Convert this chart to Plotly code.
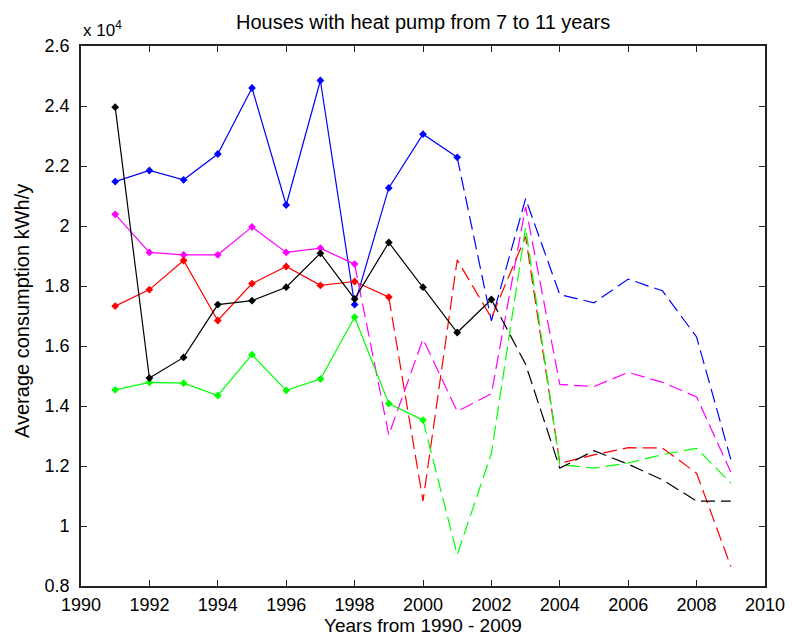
import plotly.graph_objects as go

years = list(range(1991, 2010))

# Average consumption in units of 1e4 kWh/y
blue = [2.148, 2.185, 2.154, 2.240, 2.460, 2.070, 2.485, 1.738, 2.127, 2.306, 2.229,
        1.684, 2.091, 1.771, 1.744, 1.823, 1.784, 1.630, 1.222]
magenta = [2.039, 1.912, 1.904, 1.904, 1.997, 1.912, 1.926, 1.873, 1.303, 1.623, 1.382,
           1.441, 2.064, 1.472, 1.465, 1.512, 1.479, 1.430, 1.180]
red = [1.733, 1.788, 1.885, 1.685, 1.808, 1.865, 1.802, 1.815, 1.763, 1.083, 1.887,
       1.694, 1.965, 1.209, 1.237, 1.261, 1.260, 1.176, 0.865]
green = [1.454, 1.479, 1.476, 1.435, 1.571, 1.452, 1.490, 1.696, 1.408, 1.353, 0.904,
         1.242, 1.995, 1.205, 1.193, 1.210, 1.238, 1.259, 1.143]
black = [2.396, 1.493, 1.562, 1.738, 1.751, 1.796, 1.909, 1.757, 1.945, 1.796, 1.645,
         1.755, 1.539, 1.193, 1.251, 1.206, 1.154, 1.083, 1.083]

# last year drawn with solid line + markers for each series
series = [
    ("blue", blue, "#0000FF", 2001),
    ("magenta", magenta, "#FF00FF", 1998),
    ("red", red, "#FF0000", 1999),
    ("green", green, "#00FF00", 2000),
    ("black", black, "#000000", 2002),
]

x_ticks = list(range(1990, 2011, 2))
y_ticks = [0.8, 1.0, 1.2, 1.4, 1.6, 1.8, 2.0, 2.2, 2.4, 2.6]
y_tick_text = ["0.8", "1", "1.2", "1.4", "1.6", "1.8", "2", "2.2", "2.4", "2.6"]

FONT = "Liberation Sans, Arial"
# page has an 8px body margin, so the figure is sized to fit inside the window
W, H = 777, 627
L, R, T, B = 73, 20, 38, 49

fig = go.Figure()
for name, vals, col, last in series:
    k = years.index(last) + 1
    fig.add_trace(go.Scatter(x=years[:k], y=vals[:k], mode="lines+markers",
                             line=dict(color=col, width=1.2),
                             marker=dict(symbol="diamond", size=6, color=col),
                             showlegend=False, name=name))
    fig.add_trace(go.Scatter(x=years[k - 1:], y=vals[k - 1:], mode="lines",
                             line=dict(color=col, width=1.2, dash="14px,6px"),
                             showlegend=False, name=name))

axis_common = dict(showgrid=False, zeroline=False, showline=True, linecolor="#222222",
                   linewidth=1.6, mirror="ticks", ticks="inside", ticklen=6,
                   tickcolor="#222222", tickwidth=1.3, automargin=False,
                   ticklabeloverflow="allow",
                   tickfont=dict(family=FONT, size=18, color="black"))

pw = W - L - R
ph = H - T - B

fig.update_layout(
    width=W, height=H,
    margin=dict(l=L, r=R, t=T, b=B),
    paper_bgcolor="white", plot_bgcolor="white",
    xaxis=dict(range=[1990, 2010], tickvals=x_ticks, ticklabelstandoff=2, **axis_common),
    yaxis=dict(range=[0.8, 2.6], tickvals=y_ticks, ticktext=y_tick_text,
               ticklabelstandoff=6, **axis_common),
    annotations=[
        dict(text="Houses with heat pump from 7 to 11 years", xref="paper", yref="paper",
             x=(415 - L) / pw, y=(H - B - 14) / ph, xanchor="center", yanchor="middle",
             showarrow=False, font=dict(family=FONT, size=20, color="black")),
        dict(text="Years from 1990 - 2009", xref="paper", yref="paper",
             x=(415 - L) / pw, y=(H - B - 617) / ph, xanchor="center", yanchor="middle",
             showarrow=False, font=dict(family=FONT, size=19, color="black")),
        dict(text="Average consumption kWh/y", xref="paper", yref="paper", textangle=-90,
             x=(14 - L) / pw, y=(H - B - 303) / ph, xanchor="center", yanchor="middle",
             showarrow=False, font=dict(family=FONT, size=20, color="black")),
        dict(text="x 10<sup>4</sup>", xref="paper", yref="paper", x=0.0, y=1.0,
             xanchor="left", yanchor="bottom", showarrow=False, yshift=4,
             font=dict(family=FONT, size=17, color="black")),
    ],
)

fig.write_html("out.html")
